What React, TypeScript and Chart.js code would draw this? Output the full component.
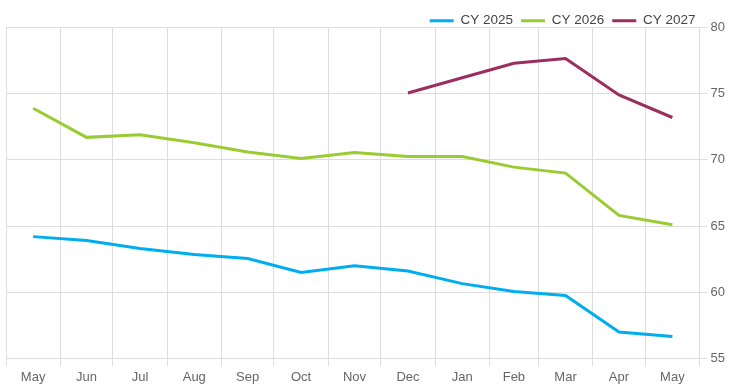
import React, { useEffect, useRef } from "react";
import { Chart, registerables } from "chart.js";

Chart.register(...registerables);

const monthLabels = ["May", "Jun", "Jul", "Aug", "Sep", "Oct", "Nov", "Dec", "Jan", "Feb", "Mar", "Apr", "May"];
const firstYear = 2025;
const firstMonthIndex = 4; // May

const cy2025 = [64.2, 63.9, 63.3, 62.85, 62.55, 61.5, 62.0, 61.6, 60.65, 60.05, 59.75, 57.0, 56.65];
const cy2026 = [73.9, 71.7, 71.9, 71.3, 70.6, 70.1, 70.55, 70.25, 70.25, 69.45, 69.0, 65.8, 65.1];
const cy2027: (number | null)[] = [null, null, null, null, null, null, null, 75.05, 76.2, 77.3, 77.65, 74.9, 73.2];

const seriesNames = ["CY 2025", "CY 2026", "CY 2027"];
const seriesColors = ["#00aeef", "#99cc33", "#9b2d5f"];

const yTicks = [55, 60, 65, 70, 75, 80];

const DAY = 86400000;
const t0 = Date.UTC(firstYear, firstMonthIndex, 1);
const monthStarts = Array.from({ length: monthLabels.length + 1 }, (_, i) =>
  (Date.UTC(firstYear, firstMonthIndex + i, 1) - t0) / DAY
);
const monthMids = monthLabels.map((_, i) => (monthStarts[i] + monthStarts[i + 1]) / 2);

const toPoints = (vals: (number | null)[]) =>
  vals
    .map((v, i) => (v === null ? null : { x: monthMids[i], y: v }))
    .filter((p) => p !== null) as { x: number; y: number }[];

const FONT = "'Liberation Sans', Arial, Helvetica, sans-serif";
const GRID = "#dddddd";

export default function App() {
  const ref = useRef<HTMLCanvasElement | null>(null);

  useEffect(() => {
    if (!ref.current) return;
    const allSeries = [cy2025, cy2026, cy2027];
    const chart = new Chart(ref.current, {
      type: "line",
      data: {
        datasets: allSeries.map((s, i) => ({
          label: seriesNames[i],
          data: toPoints(s),
          borderColor: seriesColors[i],
          backgroundColor: seriesColors[i],
          borderWidth: 3,
          pointRadius: 0,
          pointHoverRadius: 0,
          tension: 0,
          fill: false,
          xAxisID: "x",
          yAxisID: "y",
        })),
      },
      options: {
        responsive: false,
        animation: false,
        devicePixelRatio: 1,
        layout: { padding: { top: 6, left: 6, right: 3, bottom: -2 } },
        plugins: {
          tooltip: { enabled: false },
          legend: {
            position: "top",
            align: "end",
            fullSize: false,
            labels: {
              usePointStyle: true,
              pointStyle: "line",
              pointStyleWidth: 24,
              padding: 8,
              color: "#444",
              font: { family: FONT, size: 13.5 },
            },
          },
        },
        scales: {
          xg: {
            type: "linear",
            position: "bottom",
            weight: 0,
            min: monthStarts[0],
            max: monthStarts[monthStarts.length - 1],
            afterBuildTicks: (scale: any) => {
              scale.ticks = monthStarts.map((v) => ({ value: v }));
            },
            grid: { color: GRID, tickLength: 8, drawTicks: true },
            border: { color: GRID },
            ticks: { display: false, autoSkip: false },
          },
          x: {
            type: "linear",
            position: "bottom",
            weight: 1,
            min: monthStarts[0],
            max: monthStarts[monthStarts.length - 1],
            afterBuildTicks: (scale: any) => {
              scale.ticks = monthMids.map((v) => ({ value: v }));
            },
            grid: { display: false, drawTicks: false },
            border: { display: false },
            ticks: {
              autoSkip: false,
              maxRotation: 0,
              padding: 3,
              color: "#666",
              font: { family: FONT, size: 13 },
              callback: (_v: any, i: number) => monthLabels[i],
            },
          },
          y: {
            type: "linear",
            position: "right",
            min: yTicks[0],
            max: yTicks[yTicks.length - 1],
            afterBuildTicks: (scale: any) => {
              scale.ticks = yTicks.map((v) => ({ value: v }));
            },
            grid: { color: GRID, tickLength: 8 },
            border: { color: GRID },
            ticks: {
              padding: 3,
              color: "#666",
              font: { family: FONT, size: 13 },
            },
          },
        },
      },
      plugins: [
        {
          id: "legendTweak",
          beforeUpdate(c: any) {
            const lg = c.legend;
            if (lg && !lg._tweaked) {
              const origFit = lg.fit.bind(lg);
              lg.fit = function () {
                origFit();
                this.height = Math.max(0, this.height - 10);
              };
              lg._tweaked = true;
            }
          },
          afterLayout(c: any) {
            const lg = c.legend;
            if (lg) {
              lg.left += 4;
              lg.right += 4;
            }
          },
        },
      ],
    } as any);
    return () => chart.destroy();
  }, []);

  return (
    <div style={{ position: "fixed", left: 0, top: 0, width: 731, height: 386, background: "#fff" }}>
      <canvas ref={ref} width={731} height={386} style={{ display: "block" }} />
    </div>
  );
}
